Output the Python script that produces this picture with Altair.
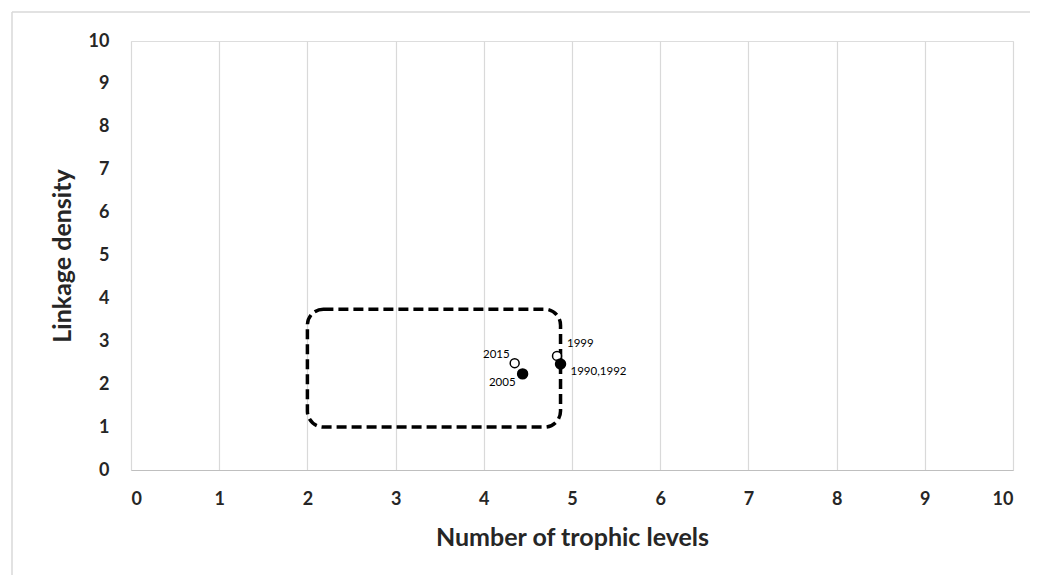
import altair as alt
import pandas as pd

years = ["2015", "2005", "1999", "1990,1992"]
trophic = [4.35, 4.44, 4.83, 4.87]
linkage = [2.49, 2.24, 2.66, 2.47]
filled = [False, True, False, True]

box_x = [2.0]
box_x2 = [4.87]
box_y = [1.0]
box_y2 = [3.75]

ticks = list(range(0, 11))

pts = pd.DataFrame({"year": years, "x": trophic, "y": linkage, "filled": filled})
box = pd.DataFrame({"x": box_x, "x2": box_x2, "y": box_y, "y2": box_y2})

FONT = "Lato"
xs = alt.Scale(domain=[0, 10], nice=False)
ys = alt.Scale(domain=[0, 10], nice=False)

base = alt.Chart(pts)

frame = alt.Chart(pd.DataFrame({"k": [0]})).mark_rule(color="#d9d9d9", strokeWidth=1.5).encode(
    x=alt.value(-119), x2=alt.value(920), y=alt.value(-29), y2=alt.value(-29))
frame_l = alt.Chart(pd.DataFrame({"k": [0]})).mark_rule(color="#d9d9d9", strokeWidth=1.5).encode(
    x=alt.value(-119), x2=alt.value(-119), y=alt.value(-29), y2=alt.value(600))

rect = alt.Chart(box).mark_rect(
    fill=None, fillOpacity=0, stroke="black", strokeWidth=3.5, strokeDash=[10, 5], cornerRadius=16
).encode(
    x=alt.X("x:Q", scale=xs,
            axis=alt.Axis(title="Number of trophic levels", values=ticks, grid=True, gridColor="#d9d9d9",
                          gridWidth=1.2, domainColor="#bfbfbf", domainWidth=1.2, ticks=False,
                          labelPadding=20, labelFontSize=18, labelFont=FONT, labelFontWeight="bold",
                          labelColor="#262626", titleFont=FONT, titleFontSize=25, titleFontWeight="bold",
                          titleColor="#262626", titlePadding=17, format="d")),
    x2="x2:Q",
    y=alt.Y("y:Q", scale=ys,
            axis=alt.Axis(title="Linkage density", values=ticks, grid=False, domain=False, ticks=False,
                          labelPadding=22, labelFontSize=18, labelFont=FONT, labelFontWeight="bold",
                          labelColor="#262626", titleFont=FONT, titleFontSize=25, titleFontWeight="bold",
                          titleColor="#262626", titlePadding=13, format="d")),
    y2="y2:Q",
)

open_pts = base.transform_filter("!datum.filled").mark_point(
    shape="circle", filled=True, fill="white", stroke="black", strokeWidth=1.5, size=80, opacity=1
).encode(x=alt.X("x:Q", scale=xs), y=alt.Y("y:Q", scale=ys))

solid_pts = base.transform_filter("datum.filled").mark_point(
    shape="circle", filled=True, color="black", size=130, opacity=1
).encode(x=alt.X("x:Q", scale=xs), y=alt.Y("y:Q", scale=ys))

offsets = {"2015": (-5, -8, "right"), "2005": (-7, 9, "right"),
           "1999": (10, -12, "left"), "1990,1992": (10, 8, "left")}
labels = []
for yr, (dx, dy, al) in offsets.items():
    labels.append(
        base.transform_filter(alt.datum.year == yr).mark_text(
            dx=dx, dy=dy, align=al, baseline="middle", font=FONT, fontSize=11.5, color="black"
        ).encode(x=alt.X("x:Q", scale=xs), y=alt.Y("y:Q", scale=ys), text="year:N")
    )

chart = alt.layer(frame, frame_l, rect, open_pts, solid_pts, *labels).properties(
    width=882, height=429,
    autosize=alt.AutoSizeParams(type="none"),
    padding={"left": 123, "top": 33, "right": 17, "bottom": 105},
).configure_view(stroke=None).configure(background="white")

chart.save("out.html", embed_options={"renderer": "svg", "actions": False})
